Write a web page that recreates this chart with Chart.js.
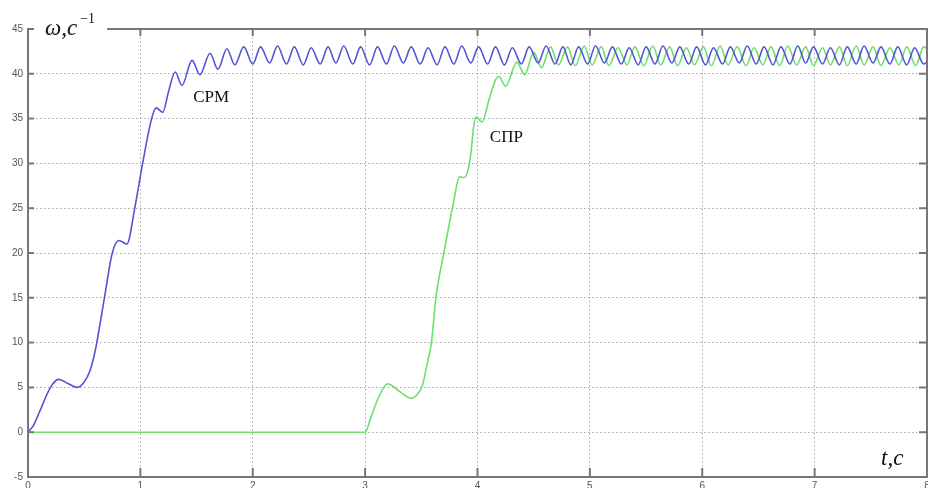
<!DOCTYPE html>
<html>
<head>
<meta charset="utf-8">
<script src="https://cdn.jsdelivr.net/npm/chart.js@4.4.0/dist/chart.umd.min.js"></script>
<style>
  html, body { margin: 0; padding: 0; background: #fff; }
  canvas { display: block; }
</style>
</head>
<body>
<canvas id="speedChart" width="928" height="488"></canvas>
<script>
// tick values
const xTicks = [0, 1, 2, 3, 4, 5, 6, 7, 8];
const yTicks = [-5, 0, 5, 10, 15, 20, 25, 30, 35, 40, 45];

// СРМ curve, [t, omega]
const cpmPoints = [
    [0, 0], [0.05, 0.8], [0.10, 2.2], [0.20, 5.0], [0.27, 5.9], [0.36, 5.4], [0.44, 5.0], [0.50, 5.6],
    [0.55, 6.8], [0.60, 9.2], [0.68, 15], [0.75, 20], [0.81, 21.4], [0.88, 21.0], [0.95, 25], [1.02, 30],
    [1.10, 35], [1.14, 36.2], [1.20, 35.7], [1.25, 38.0], [1.31, 40.2], [1.37, 38.7], [1.46, 41.5],
    [1.53, 39.9], [1.62, 42.3], [1.69, 40.5], [1.77, 42.8], [1.84, 41.0], [1.92, 43.0],
    [2.00, 41.1], [2.07, 43.0], [2.15, 41.2], [2.22, 43.1], [2.30, 41.1], [2.37, 43.0], [2.45, 41.0],
    [2.52, 42.9], [2.60, 41.1], [2.67, 43.0], [2.74, 41.2], [2.81, 43.1], [2.89, 41.1], [2.96, 43.0],
    [3.04, 41.0], [3.11, 43.0], [3.19, 41.1], [3.26, 43.1], [3.34, 41.2], [3.41, 43.0], [3.49, 41.1],
    [3.56, 42.9], [3.64, 41.0], [3.71, 43.0], [3.79, 41.1], [3.86, 43.1], [3.94, 41.2], [4.01, 43.0],
    [4.09, 41.1], [4.16, 43.0], [4.24, 41.0], [4.31, 42.9], [4.39, 41.1], [4.46, 43.0], [4.54, 41.2],
    [4.61, 43.1], [4.69, 41.1], [4.76, 43.0], [4.83, 41.0], [4.90, 43.0], [4.98, 41.1], [5.05, 43.1],
    [5.13, 41.2], [5.20, 43.0], [5.28, 41.1], [5.35, 42.9], [5.43, 41.0], [5.50, 43.0], [5.58, 41.1],
    [5.65, 43.1], [5.73, 41.2], [5.80, 43.0], [5.88, 41.1], [5.95, 43.0], [6.03, 41.0], [6.10, 42.9],
    [6.18, 41.1], [6.25, 43.0], [6.33, 41.2], [6.40, 43.1], [6.48, 41.1], [6.55, 43.0], [6.63, 41.0],
    [6.70, 43.0], [6.78, 41.1], [6.85, 43.1], [6.92, 41.2], [6.99, 43.0], [7.07, 41.1], [7.14, 42.9],
    [7.22, 41.0], [7.29, 43.0], [7.37, 41.1], [7.44, 43.1], [7.52, 41.2], [7.59, 43.0], [7.67, 41.1],
    [7.74, 43.0], [7.82, 41.0], [7.89, 42.9], [7.97, 41.1], [8.00, 41.3]
];

// СПР curve
const sprPoints = [
    [0, 0], [3.00, 0], [3.05, 1.6], [3.12, 3.9], [3.20, 5.4], [3.30, 4.6], [3.41, 3.8], [3.47, 4.3],
    [3.51, 5.2], [3.55, 7.5], [3.59, 10], [3.63, 15], [3.70, 20], [3.76, 24], [3.78, 25.2], [3.84, 28.5],
    [3.88, 28.4], [3.91, 29.0], [3.94, 31], [3.97, 34.5], [3.99, 35.2], [4.04, 34.6], [4.10, 37.0],
    [4.16, 39.3], [4.19, 39.7], [4.25, 38.6], [4.35, 41.3], [4.42, 39.9], [4.50, 42.4], [4.57, 40.7],
    [4.65, 43.0], [4.72, 41.0], [4.80, 43.0], [4.87, 40.9], [4.95, 43.1], [5.02, 41.0], [5.10, 43.0],
    [5.17, 40.9], [5.25, 42.9], [5.33, 41.0], [5.40, 43.0], [5.48, 40.9], [5.56, 43.1], [5.63, 41.0],
    [5.71, 43.0], [5.78, 40.9], [5.86, 42.9], [5.93, 41.0], [6.01, 43.0], [6.08, 40.9], [6.16, 43.1],
    [6.23, 41.0], [6.31, 43.0], [6.39, 40.9], [6.46, 42.9], [6.54, 41.0], [6.61, 43.0], [6.69, 40.9],
    [6.76, 43.1], [6.84, 41.0], [6.92, 43.0], [6.99, 40.9], [7.07, 42.9], [7.14, 41.0], [7.22, 43.0],
    [7.29, 40.9], [7.37, 43.1], [7.44, 41.0], [7.52, 43.0], [7.59, 40.9], [7.67, 42.9], [7.75, 41.0],
    [7.82, 43.0], [7.90, 40.9], [7.97, 43.0], [8.00, 42.8]
];

const curveLabels = [
    { text: 'СРМ', t: 1.47, w: 37.3 },
    { text: 'СПР', t: 4.11, w: 32.9 }
];

const toXY = pts => pts.map(p => ({ x: p[0], y: p[1] }));

// frame, inner ticks, axis captions, curve names
const decorPlugin = {
    id: 'decor',
    afterDatasetsDraw(chart) {
        const { ctx, chartArea: a, scales: { x, y } } = chart;
        ctx.save();
        ctx.strokeStyle = '#777';
        ctx.lineWidth = 2;
        ctx.strokeRect(a.left, a.top, a.right - a.left, a.bottom - a.top);

        ctx.beginPath();
        xTicks.forEach(v => {
            const px = x.getPixelForValue(v);
            ctx.moveTo(px, a.bottom); ctx.lineTo(px, a.bottom - 9);
            ctx.moveTo(px, a.top); ctx.lineTo(px, a.top + 7);
        });
        yTicks.forEach(v => {
            const py = y.getPixelForValue(v);
            ctx.moveTo(a.left, py); ctx.lineTo(a.left + 6, py);
            ctx.moveTo(a.right, py); ctx.lineTo(a.right - 8, py);
        });
        ctx.stroke();

        // y caption, on a white patch over the top border
        ctx.font = 'italic 23px "Liberation Serif"';
        const main = 'ω,c';
        const mw = ctx.measureText(main).width;
        ctx.font = '14px "Liberation Serif"';
        const sw = ctx.measureText('−1').width;
        ctx.fillStyle = '#fff';
        ctx.fillRect(a.left + 6, a.top - 14, mw + sw + 26, 22);
        ctx.fillStyle = '#111';
        ctx.textBaseline = 'alphabetic';
        ctx.textAlign = 'left';
        ctx.font = 'italic 23px "Liberation Serif"';
        ctx.fillText(main, a.left + 17, a.top + 6);
        ctx.font = '14px "Liberation Serif"';
        ctx.fillText('−1', a.left + 20 + mw, a.top - 6);

        // x caption
        ctx.font = 'italic 23px "Liberation Serif"';
        ctx.fillText('t,c', a.right - 46, a.bottom - 12);

        ctx.font = '17px "Liberation Serif"';
        ctx.textBaseline = 'middle';
        curveLabels.forEach(l => {
            ctx.fillText(l.text, x.getPixelForValue(l.t), y.getPixelForValue(l.w));
        });
        ctx.restore();
    }
};

new Chart(document.getElementById('speedChart').getContext('2d'), {
    type: 'line',
    data: {
        datasets: [{
            label: 'СРМ',
            data: toXY(cpmPoints),
            borderColor: '#5454d4',
            borderWidth: 1.6,
            pointRadius: 0,
            cubicInterpolationMode: 'monotone'
        }, {
            label: 'СПР',
            data: toXY(sprPoints),
            borderColor: '#6ce06c',
            borderWidth: 1.6,
            pointRadius: 0,
            cubicInterpolationMode: 'monotone'
        }]
    },
    options: {
        responsive: false,
        animation: false,
        layout: { padding: { top: 29, right: 1, left: 0, bottom: 0 } },
        plugins: {
            legend: { display: false },
            tooltip: { enabled: false }
        },
        scales: {
            x: {
                type: 'linear',
                min: 0,
                max: 8,
                afterFit: s => { s.height = 11; s.paddingLeft = 0; s.paddingRight = 0; },
                afterBuildTicks: s => { s.ticks = xTicks.map(v => ({ value: v })); },
                ticks: {
                    autoSkip: false,
                    maxRotation: 0,
                    padding: 3,
                    color: '#555',
                    font: { family: 'Liberation Sans', size: 10 }
                },
                grid: { color: '#a8a8a8', lineWidth: 1, drawTicks: false },
                border: { display: false, dash: [1.5, 2.5] }
            },
            y: {
                min: -5,
                max: 45,
                afterFit: s => { s.width = 28; s.paddingTop = 0; s.paddingBottom = 0; },
                afterBuildTicks: s => { s.ticks = yTicks.map(v => ({ value: v })); },
                ticks: {
                    padding: 5,
                    color: '#555',
                    font: { family: 'Liberation Sans', size: 10 }
                },
                grid: { color: '#a8a8a8', lineWidth: 1, drawTicks: false },
                border: { display: false, dash: [1.5, 2.5] }
            }
        }
    },
    plugins: [decorPlugin]
});
</script>
</body>
</html>
